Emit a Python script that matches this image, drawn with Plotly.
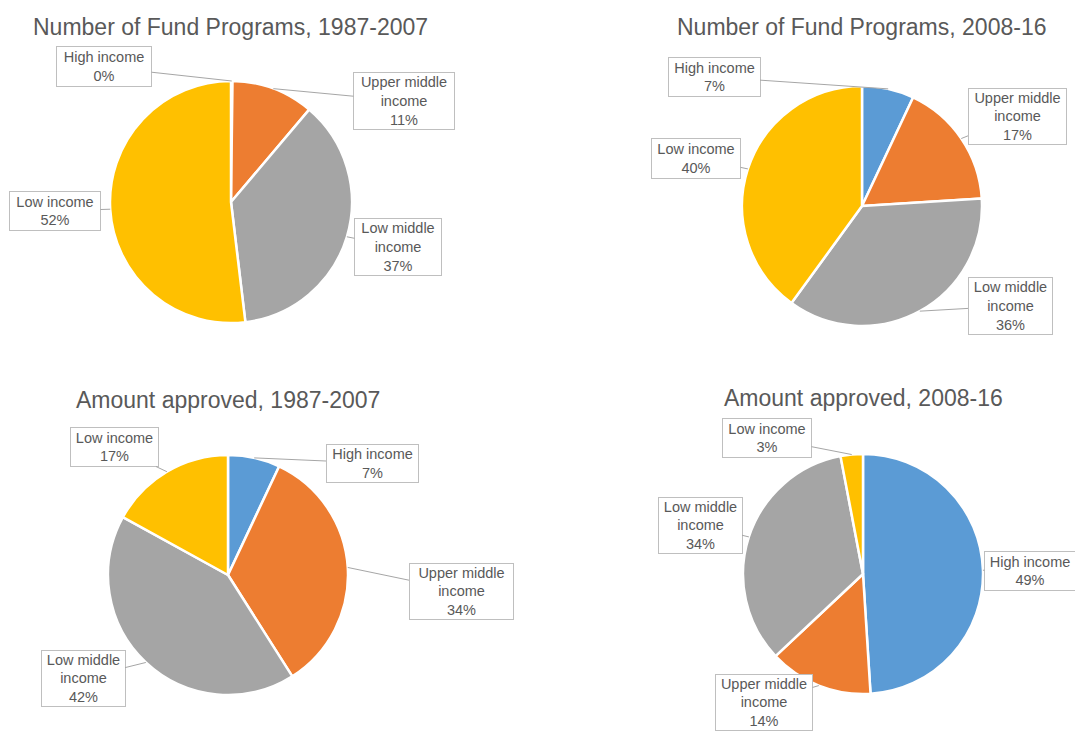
import math
import plotly.graph_objects as go

W, H = 1075, 733

# ---- data ----
categories = ["High income", "Upper middle income", "Low middle income", "Low income"]
label_text = ["High income", "Upper middle<br>income", "Low middle<br>income", "Low income"]
titles = [
    "Number of Fund Programs, 1987-2007",
    "Number of Fund Programs, 2008-16",
    "Amount approved, 1987-2007",
    "Amount approved, 2008-16",
]
programs_1987_2007 = [0.2, 11, 37, 52]
programs_2008_16 = [7, 17, 36, 40]
amount_1987_2007 = [7, 34, 42, 17]
amount_2008_16 = [49, 14, 34, 3]
series = [programs_1987_2007, programs_2008_16, amount_1987_2007, amount_2008_16]

colors = ["#5B9BD5", "#ED7D31", "#A5A5A5", "#FFC000"]

# ---- layout (pixel positions) ----
pie_geom = [(231, 202, 121), (862, 206, 120), (228, 575, 120), (863, 574, 120)]
title_pos = [(230, 27), (861, 27), (228, 400), (863, 398)]
# label box centers/sizes (cx, cy, w, h) per category order
box_geom = [
    [(104, 67, 96, 41), (404, 101, 102, 58), (398, 247, 88, 58), (55, 211, 92, 40)],
    [(714, 77, 93, 40), (1017, 116, 99, 57), (1010, 306, 85, 58), (696, 158, 90, 41)],
    [(372, 463, 93, 39), (461, 591, 105, 57), (83, 678, 85, 57), (115, 447, 89, 40)],
    [(1030, 571, 92, 40), (764, 702, 98, 57), (700, 525, 85, 57), (767, 438, 90, 40)],
]

fig = go.Figure()
annotations = []
for i, vals in enumerate(series):
    cx, cy, r = pie_geom[i]
    fig.add_trace(go.Pie(
        labels=categories, values=vals, sort=False, direction="clockwise", rotation=0,
        marker=dict(colors=colors, line=dict(color="white", width=2.5)),
        textinfo="none", hoverinfo="label+percent", showlegend=False,
        domain=dict(x=[(cx - r) / W, (cx + r) / W], y=[1 - (cy + r) / H, 1 - (cy - r) / H]),
    ))
    tx, ty = title_pos[i]
    annotations.append(dict(
        x=tx / W, y=1 - ty / H, xref="paper", yref="paper", showarrow=False,
        text=titles[i], xanchor="center", yanchor="middle",
        font=dict(family="Liberation Sans, Arial", size=23, color="#595959"),
    ))
    total = sum(vals)
    cum = 0
    for j, v in enumerate(vals):
        mid = (cum + v / 2) / total * 2 * math.pi
        cum += v
        px = cx + r * math.sin(mid)
        py = cy - r * math.cos(mid)
        bx, by, bw, bh = box_geom[i][j]
        pct = round(v / total * 100)
        annotations.append(dict(
            x=px / W, y=1 - py / H, xref="paper", yref="paper",
            ax=bx - px, ay=by - py, axref="pixel", ayref="pixel",
            showarrow=True, arrowhead=0, arrowwidth=1, arrowcolor="#A6A6A6", standoff=0,
            text=f"{label_text[j]}<br>{pct}%",
            width=bw - 4, height=bh - 4, borderpad=1,
            bordercolor="#BFBFBF", borderwidth=1, bgcolor="white",
            align="center", valign="middle",
            font=dict(family="Liberation Sans, Arial", size=14.5, color="#595959"),
        ))

fig.update_layout(
    width=W, height=H, margin=dict(l=0, r=0, t=0, b=0),
    paper_bgcolor="white", plot_bgcolor="white",
    annotations=annotations,
)
fig.write_html("out.html", config={"displayModeBar": False},
               post_script="document.body.style.margin='0';")
